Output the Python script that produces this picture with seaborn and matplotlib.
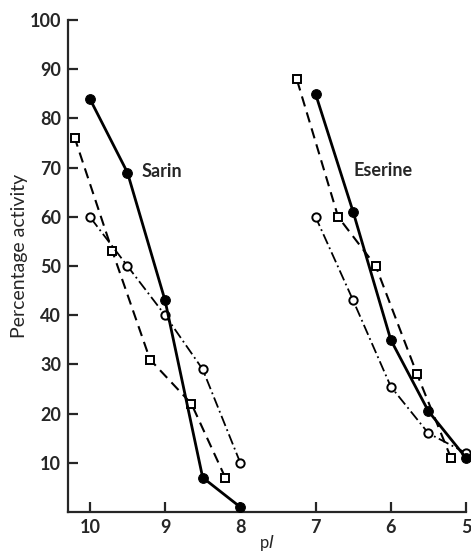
""" plot """

import matplotlib
matplotlib.use("Agg")
import matplotlib.pyplot as plt
import pandas as pd
import seaborn as sns

# Sarin
sarin_dot_x = [10.0, 9.5, 9.0, 8.5, 8.0]
sarin_dot_y = [84, 69, 43, 7, 1]
sarin_sq_x = [10.2, 9.7, 9.2, 8.65, 8.2]
sarin_sq_y = [76, 53, 31, 22, 7]
sarin_open_x = [10.0, 9.5, 9.0, 8.5, 8.0]
sarin_open_y = [60, 50, 40, 29, 10]

# Eserine
eser_dot_x = [7.0, 6.5, 6.0, 5.5, 5.0]
eser_dot_y = [85, 61, 35, 20.5, 11]
eser_sq_x = [7.25, 6.7, 6.2, 5.65, 5.2]
eser_sq_y = [88, 60, 50, 28, 11]
eser_open_x = [7.0, 6.5, 6.0, 5.5, 5.0]
eser_open_y = [60, 43, 25.5, 16, 12]

y_ticks = [10, 20, 30, 40, 50, 60, 70, 80, 90, 100]
x_ticks = [10, 9, 8, 7, 6, 5]

sns.set_style("ticks")
plt.rcParams["font.family"] = ["Lato", "DejaVu Sans"]

fig = plt.figure(figsize=(4.71, 5.54), dpi=100)
ax = fig.add_axes([0.1444, 0.0758, 0.845, 0.888])

styles = {
    "dot": dict(linestyle="-", marker="o", markersize=7, markerfacecolor="black",
                linewidth=2.0),
    "sq": dict(linestyle=(0, (5, 3)), marker="s", markersize=5.5,
               markerfacecolor="white", markeredgewidth=1.4, linewidth=1.5),
    "open": dict(linestyle=(0, (6, 2, 1, 2)), marker="o", markersize=6,
                 markerfacecolor="white", markeredgewidth=1.4, linewidth=1.3),
}

series = [
    (sarin_sq_x, sarin_sq_y, "sq"),
    (sarin_open_x, sarin_open_y, "open"),
    (sarin_dot_x, sarin_dot_y, "dot"),
    (eser_sq_x, eser_sq_y, "sq"),
    (eser_open_x, eser_open_y, "open"),
    (eser_dot_x, eser_dot_y, "dot"),
]

for xs, ys, kind in series:
    df = pd.DataFrame({"pI": xs, "activity": ys})
    sns.lineplot(data=df, x="pI", y="activity", ax=ax, color="black",
                 markeredgecolor="black", clip_on=False, zorder=3,
                 **styles[kind])

ax.set_xlim(10.29, 5)
ax.set_ylim(0, 100)
ax.set_xticks(x_ticks)
ax.set_yticks(y_ticks)
ax.tick_params(direction="in", length=7, width=1.6, labelsize=13, pad=5)
for lab in ax.get_xticklabels() + ax.get_yticklabels():
    lab.set_fontweight("bold")

sns.despine(ax=ax)
for side in ["left", "bottom"]:
    ax.spines[side].set_linewidth(1.6)

ax.set_xlabel(r"p$\it{I}$", fontsize=12)
ax.xaxis.set_label_coords(0.5, -0.042)
ax.set_ylabel("Percentage activity", fontsize=14)
ax.yaxis.set_label_coords(-0.1, 0.52)

ax.text(9.31, 69.3, "Sarin", fontsize=13, fontweight="bold", va="center")
ax.text(6.49, 69.5, "Eserine", fontsize=13, fontweight="bold", va="center")

fig.savefig("out.png", dpi=100)
